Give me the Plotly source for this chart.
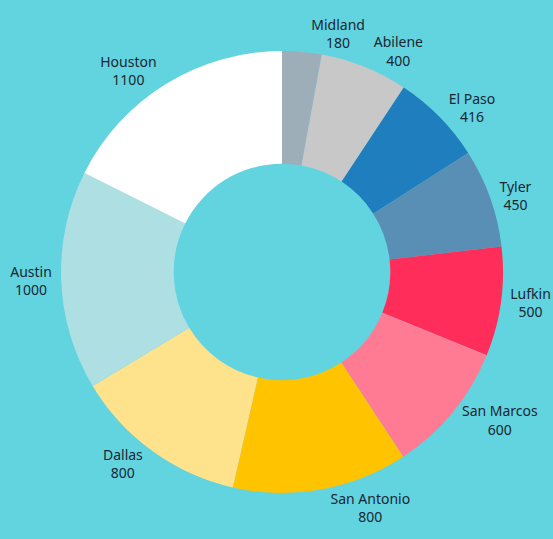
import plotly.graph_objects as go

cities = ["Midland", "Abilene", "El Paso", "Tyler", "Lufkin", "San Marcos",
          "San Antonio", "Dallas", "Austin", "Houston"]
values = [180, 400, 416, 450, 500, 600, 800, 800, 1000, 1100]
colors = ["#9EAEB8", "#C8C8C8", "#1F7EBD", "#5A8FB5", "#FF2D5A", "#FF7A93",
          "#FFC300", "#FFE38C", "#ADDFE3", "#FFFFFF"]

bg = "#61D4E0"
label_tpl = "%{label}<br>%{value}"
font = dict(family="Noto Sans, sans-serif", size=14, color="#1B2631")

# pie box in pixels
cx, cy, r = 282, 272, 221
W, H = 553, 539
domain = dict(x=[(cx - r) / W, (cx + r) / W],
              y=[(H - cy - r) / H, (H - cy + r) / H])

common = dict(labels=cities, values=values, sort=False, direction="clockwise",
              rotation=0, hole=0.49, automargin=False, textposition="outside",
              textfont=font, showlegend=False, domain=domain)

# main donut: all slices, labels for all but the first (small) slice
fig = go.Figure(go.Pie(
    marker=dict(colors=colors, line=dict(width=0)),
    texttemplate=["" if i == 0 else label_tpl for i in range(len(cities))],
    **common,
))
# transparent overlay carrying only the first slice's label (keeps it from being pushed up)
fig.add_trace(go.Pie(
    marker=dict(colors=["rgba(0,0,0,0)"] * len(cities), line=dict(width=0)),
    texttemplate=[label_tpl if i == 0 else "" for i in range(len(cities))],
    hoverinfo="skip",
    **common,
))

fig.update_layout(
    width=W, height=H,
    margin=dict(l=0, r=0, t=0, b=0, autoexpand=False),
    paper_bgcolor=bg,
    plot_bgcolor=bg,
)

fig.write_html(
    "out.html",
    config={"displayModeBar": False},
    post_script="document.body.style.margin='0';document.body.style.background='" + bg + "';",
)
